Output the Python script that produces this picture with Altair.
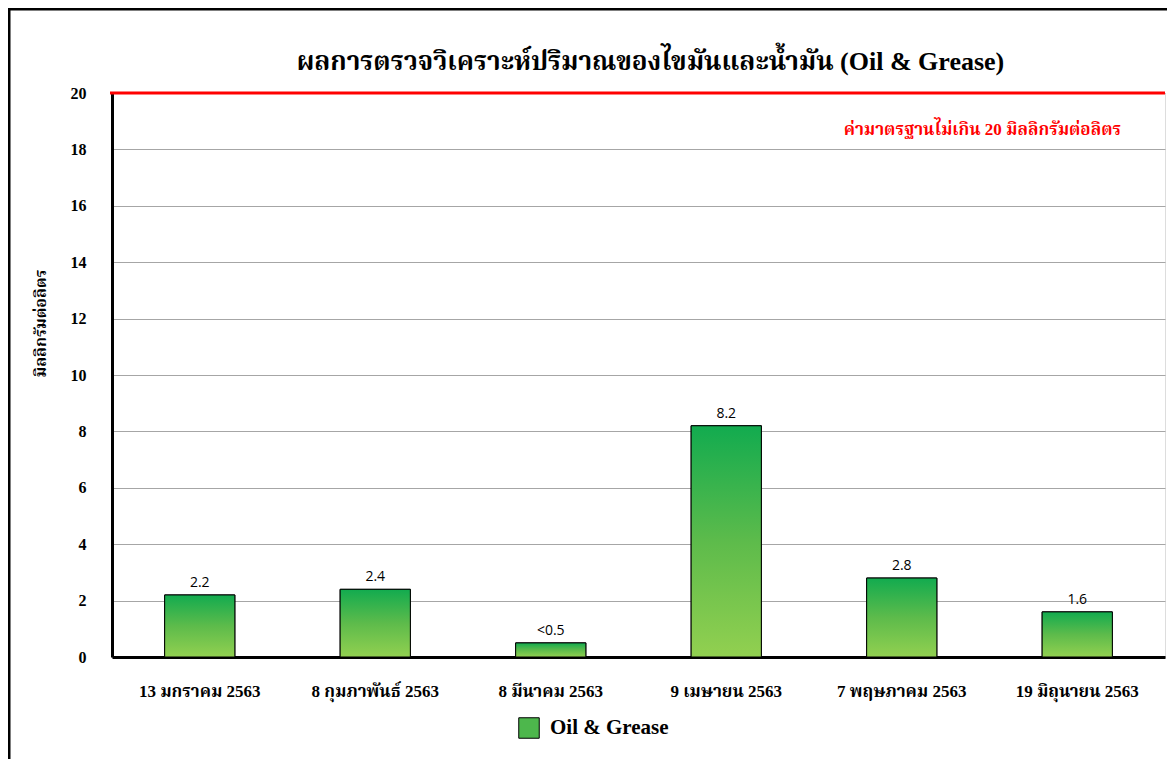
import altair as alt
import pandas as pd

dates = ["13 มกราคม 2563", "8 กุมภาพันธ์ 2563", "8 มีนาคม 2563",
         "9 เมษายน 2563", "7 พฤษภาคม 2563", "19 มิถุนายน 2563"]
values = [2.2, 2.4, 0.5, 8.2, 2.8, 1.6]
labels = ["2.2", "2.4", "<0.5", "8.2", "2.8", "1.6"]
series = "Oil & Grease"
limit = 20
title_text = "ผลการตรวจวิเคราะห์ปริมาณของไขมันและน้ำมัน (Oil & Grease)"
y_title = "มิลลิกรัมต่อลิตร"
note_text = "ค่ามาตรฐานไม่เกิน 20 มิลลิกรัมต่อลิตร"

df = pd.DataFrame({"date": dates, "value": values, "label": labels, "series": series})

SERIF = "Liberation Serif, Noto Serif Thai, Noto Sans Thai, Times New Roman, serif"
SANS = "Open Sans, Noto Sans, Noto Sans Thai, sans-serif"

W, H = 1053, 564

grad = alt.Gradient(
    gradient="linear",
    stops=[alt.GradientStop(color="#12AB4F", offset=0),
           alt.GradientStop(color="#5DBB4B", offset=0.5),
           alt.GradientStop(color="#92D050", offset=1)],
    x1=0, x2=0, y1=0, y2=1,
)

x = alt.X("date:N", sort=dates,
          scale=alt.Scale(paddingInner=0.6, paddingOuter=0.3),
          axis=alt.Axis(title=None, labelAngle=0, labelPadding=26, labelFont=SERIF,
                        labelFontSize=17, labelFontWeight="bold", labelColor="black",
                        ticks=False, domainColor="black", domainWidth=3, grid=False))
y = alt.Y("value:Q", scale=alt.Scale(domain=[0, 20], nice=False),
          axis=alt.Axis(values=list(range(0, 21, 2)), title=y_title, titleFont=SERIF,
                        titleFontSize=16, titleFontWeight="bold", titleColor="black",
                        titleAngle=270, titleX=-72, titleY=230, titleAlign="center",
                        titleBaseline="middle",
                        labelFont=SERIF, labelFontSize=16, labelFontWeight="bold",
                        labelColor="black", labelPadding=26, ticks=False,
                        domainColor="black", domainWidth=3,
                        gridColor="#A6A6A6", gridWidth=1))

base = alt.Chart(df)

legend_bars = base.mark_bar(stroke="black", strokeWidth=1).encode(
    x=x, y=y,
    fill=alt.Fill("series:N", scale=alt.Scale(range=["#4DB74C"]),
                  legend=alt.Legend(title=None, orient="none", legendX=406, legendY=624,
                                    direction="horizontal", symbolType="square",
                                    symbolSize=420, symbolStrokeColor="black",
                                    symbolStrokeWidth=1, labelFont=SERIF,
                                    labelFontSize=21, labelFontWeight="bold",
                                    labelColor="black", labelOffset=10)),
)

bars = base.mark_bar(fill=grad, stroke="black", strokeWidth=1).encode(x=x, y=y)

texts = base.mark_text(dy=-12, font=SANS, fontSize=14, color="black").encode(
    x=x, y=y, text="label:N")

lim_df = pd.DataFrame({"v": [limit]})
rule = alt.Chart(lim_df).mark_rule(color="#FF0000", strokeWidth=3).encode(
    y=alt.Y("v:Q", scale=alt.Scale(domain=[0, 20], nice=False)),
    x=alt.value(-2), x2=alt.value(W))

note = alt.Chart(lim_df).mark_text(
    text=note_text, font=SERIF, fontSize=17, fontWeight="bold", color="#FF0000",
    align="right", baseline="middle").encode(
    y=alt.datum(18.7), x=alt.value(W - 44))

title = alt.Chart(lim_df).mark_text(
    text=title_text, font=SERIF, fontSize=26, fontWeight="bold", color="black",
    align="center", baseline="middle").encode(
    x=alt.value(W / 2 + 12), y=alt.value(-31))

frame = alt.Chart(lim_df).mark_rect(fillOpacity=0, stroke="black", strokeWidth=3).encode(
    x=alt.value(-103), x2=alt.value(W + 300),
    y=alt.value(-84), y2=alt.value(H + 300))

chart = alt.layer(frame, legend_bars, bars, texts, rule, note, title).properties(
    width=W, height=H,
    autosize=alt.AutoSizeParams(type="none"),
    padding={"left": 104, "top": 85, "right": 2, "bottom": 102},
).configure_view(strokeWidth=0).configure(background="white")

chart.save("out.html", embed_options={"renderer": "svg", "actions": False})
